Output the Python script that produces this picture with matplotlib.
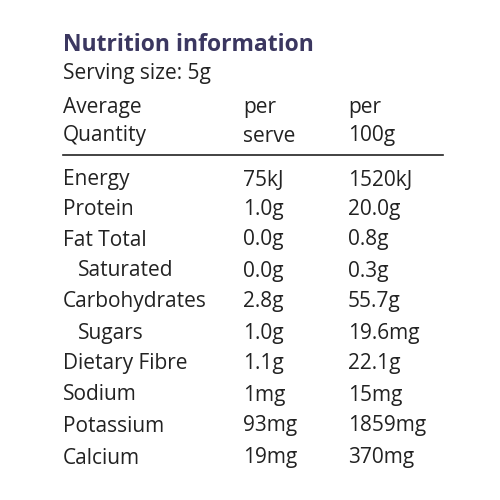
import matplotlib.pyplot as plt

title = "Nutrition information"
serving = "Serving size: 5g"
headers = [["Average", "per", "per"], ["Quantity", "serve", "100g"]]
nutrients = ["Energy", "Protein", "Fat Total", "Saturated", "Carbohydrates", "Sugars",
             "Dietary Fibre", "Sodium", "Potassium", "Calcium"]
indented = [False, False, False, True, False, True, False, False, False, False]
per_serve = ["75kJ", "1.0g", "0.0g", "0.0g", "2.8g", "1.0g", "1.1g", "1mg", "93mg", "19mg"]
per_100g = ["1520kJ", "20.0g", "0.8g", "0.3g", "55.7g", "19.6mg", "22.1g", "15mg", "1859mg", "370mg"]

fig = plt.figure(figsize=(5, 5), dpi=100)
fig.patch.set_facecolor("white")
font = ["Open Sans", "DejaVu Sans"]
ink = "#222222"
fs = 15

def put(x, y, s, **kw):
    fig.text(x / 500, 1 - y / 500, s, va="center", ha="left", family=font, **kw)

put(63, 45, title, fontsize=16.5, fontweight="bold", color="#3b3760")
put(63, 74, serving, fontsize=fs, color=ink)

cols = [63, 243, 348]
for row, y in zip(headers, [107, 136]):
    for x, s in zip(cols, row):
        put(x, y, s, fontsize=fs, color=ink)

fig.add_artist(plt.Line2D([63 / 500, 443 / 500], [1 - 155 / 500] * 2, color=ink, lw=1.2))

ys = [180, 210, 240, 271, 302, 333, 364, 395, 426, 458]
for name, ind, a, b, y in zip(nutrients, indented, per_serve, per_100g, ys):
    put(78 if ind else 63, y, name, fontsize=fs, color=ink)
    put(cols[1], y, a, fontsize=fs, color=ink)
    put(cols[2], y, b, fontsize=fs, color=ink)

fig.savefig("out.png", dpi=100, facecolor="white")
